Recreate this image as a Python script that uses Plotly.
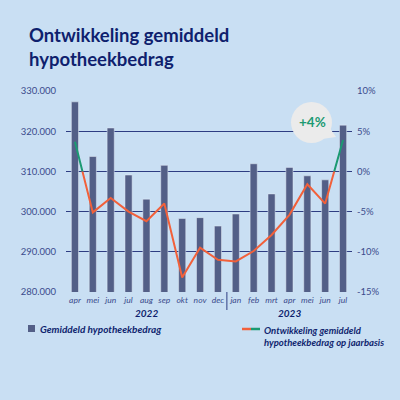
import plotly.graph_objects as go

# Data
months = ['apr', 'mei', 'jun', 'jul', 'aug', 'sep', 'okt', 'nov', 'dec',
          'jan', 'feb', 'mrt', 'apr', 'mei', 'jun', 'jul']
years = ['2022', '2023']
amount = [327300, 313700, 320800, 309100, 303100, 311500, 298300, 298500, 296400,
          299400, 311900, 304400, 311000, 308900, 307900, 321500]
growth = [3.7, -5.1, -3.3, -5.0, -6.2, -4.0, -13.2, -9.5, -11.0,
          -11.2, -9.9, -7.9, -5.4, -1.6, -4.0, 3.9]
pct_ticks = [-15, -10, -5, 0, 5, 10]
pct_labels = ['-15%', '-10%', '-5%', '0%', '5%', '10%']
title_lines = ['Ontwikkeling gemiddeld', 'hypotheekbedrag']
callout = '+4%'

NAVY = '#0f1f6e'
GRID = '#2e3d82'
TICK = '#3b4b8c'
BAR = '#535f87'
ORANGE = '#f2603a'
GREEN = '#1c9a72'
BG = '#c9dff3'
FONT = 'Lato'

W, H = 400, 400
L, R, T, B = 66, 48, 91, 108
PW, PH = W - L - R, H - T - B


def px(x):
    return (x - L) / PW


def py(y):
    return (H - B - y) / PH


x = list(range(len(months)))

fig = go.Figure()

fig.add_trace(go.Bar(x=x, y=amount, marker_color=BAR, width=0.4,
                     yaxis='y', showlegend=False))
# empty trace so the right axis is drawn
fig.add_trace(go.Scatter(x=[None], y=[None], yaxis='y2', showlegend=False))

# orange below 0%, green above 0% (same line in two clipped subplots)
fig.add_trace(go.Scatter(x=x, y=growth, mode='lines', yaxis='y4',
                         line=dict(color=ORANGE, width=2), showlegend=False))
fig.add_trace(go.Scatter(x=x, y=growth, mode='lines', yaxis='y3',
                         line=dict(color=GREEN, width=2), showlegend=False))

fig.update_layout(
    width=W, height=H,
    margin=dict(l=L, r=R, t=T, b=B),
    paper_bgcolor=BG, plot_bgcolor='rgba(0,0,0,0)',
    separators=',.',
    font=dict(family=FONT, color=NAVY),
    xaxis=dict(range=[-0.5, len(months) - 0.5], tickvals=x,
               ticktext=['<i>%s</i>' % m for m in months],
               tickfont=dict(size=8.5, color=TICK), showgrid=False,
               zeroline=False, showline=False, ticks='',
               ticklabelstandoff=1),
    yaxis=dict(range=[280000, 330000], dtick=10000, tickformat=',.0f',
               showgrid=True, gridcolor=GRID, gridwidth=1, zeroline=False,
               tickfont=dict(size=9.5, color=TICK), ticks='',
               ticklabelstandoff=9),
    yaxis2=dict(range=[-15, 10], tickvals=pct_ticks, ticktext=pct_labels,
                overlaying='y', side='right', showgrid=False, zeroline=False,
                tickfont=dict(size=9.5, color=TICK), ticks='',
                ticklabelstandoff=4),
    yaxis3=dict(range=[0, 10], domain=[0.6, 1], anchor='x', visible=False),
    yaxis4=dict(range=[-15, 0], domain=[0, 0.6], anchor='x', visible=False),
)

# title
fig.add_annotation(x=px(27), y=py(22), xref='paper', yref='paper',
                   xanchor='left', yanchor='top', align='left',
                   text='<b>%s</b>' % '<br>'.join(title_lines),
                   showarrow=False, font=dict(size=18.5, color=NAVY))

# year labels and divider
for i, yr in enumerate(years):
    fig.add_annotation(x=4 + 8 * i, y=py(313), xref='x', yref='paper',
                       xanchor='center', yanchor='middle',
                       text='<b><i>%s</i></b>' % yr, showarrow=False,
                       font=dict(size=10, color=NAVY))
fig.add_shape(type='line', xref='x', yref='paper', x0=8.5, x1=8.5,
              y0=0, y1=py(310), line=dict(color=GRID, width=1))

# callout bubble
fig.add_shape(type='circle', xref='paper', yref='paper',
              x0=px(291), x1=px(332), y0=py(102), y1=py(143),
              fillcolor='#ebebeb', line_width=0, layer='above')
fig.add_shape(type='path', xref='paper', yref='paper', layer='above',
              path='M %f,%f L %f,%f L %f,%f Z' % (px(322), py(139), px(336), py(137),
                                               px(329), py(127)),
              fillcolor='#ebebeb', line_width=0)
fig.add_annotation(x=px(312), y=py(122), xref='paper', yref='paper',
                   xanchor='center', yanchor='middle',
                   text='<b>%s</b>' % callout, showarrow=False,
                   font=dict(size=13.5, color=GREEN))

# legend
fig.add_shape(type='rect', xref='paper', yref='paper',
              x0=px(28), x1=px(35), y0=py(332), y1=py(325),
              fillcolor=BAR, line_width=0)
fig.add_annotation(x=px(38), y=py(329), xref='paper', yref='paper',
                   xanchor='left', yanchor='middle',
                   text='<b><i>Gemiddeld hypotheekbedrag</i></b>',
                   showarrow=False, font=dict(size=10, color=NAVY))
fig.add_shape(type='line', xref='paper', yref='paper',
              x0=px(242), x1=px(251), y0=py(329), y1=py(329),
              line=dict(color=ORANGE, width=2.5))
fig.add_shape(type='line', xref='paper', yref='paper',
              x0=px(251), x1=px(260), y0=py(329), y1=py(329),
              line=dict(color=GREEN, width=2.5))
fig.add_annotation(x=px(262), y=py(323), xref='paper', yref='paper',
                   xanchor='left', yanchor='top', align='left',
                   text='<b><i>Ontwikkeling gemiddeld<br>hypotheekbedrag op jaarbasis</i></b>',
                   showarrow=False, font=dict(size=9.5, color=NAVY))

fig.write_html('out.html', config={'displayModeBar': False},
               post_script="document.body.style.margin='0';")
